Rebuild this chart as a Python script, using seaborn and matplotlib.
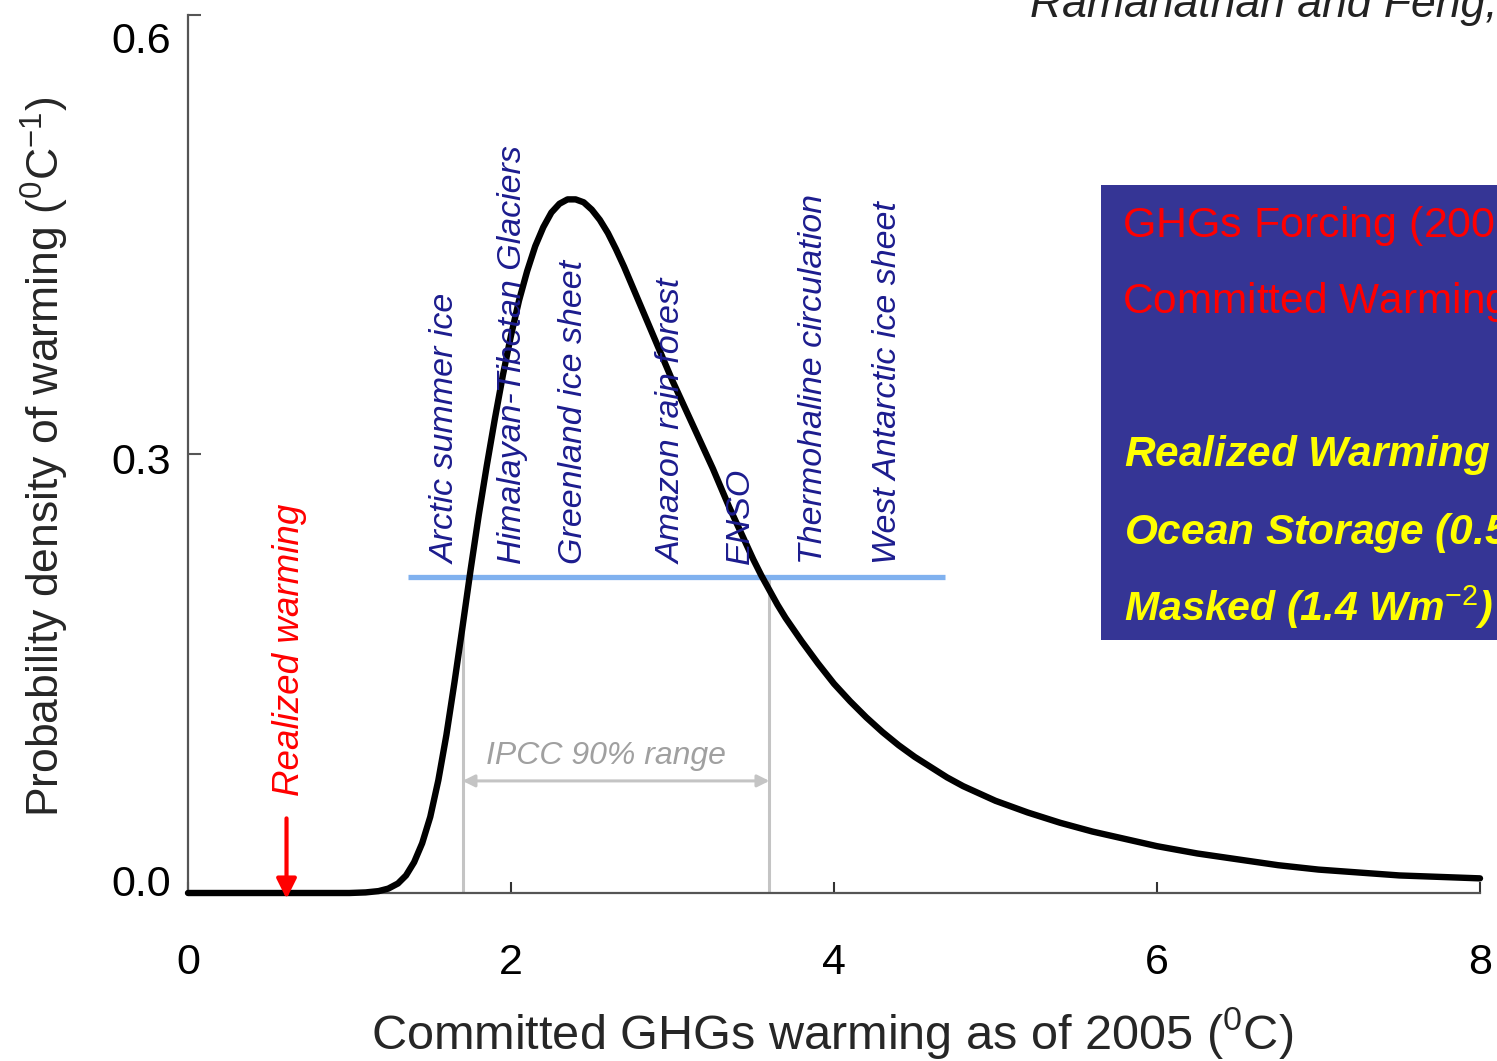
import numpy as np
import pandas as pd
import matplotlib
matplotlib.use("Agg")
import matplotlib.pyplot as plt
import matplotlib.transforms as mtransforms
import seaborn as sns

# ---------------- data ----------------
curve_x = [0.00, 1.00, 1.10, 1.18, 1.24, 1.30, 1.35, 1.40, 1.45, 1.50, 1.55, 1.60, 1.65,
           1.70, 1.75, 1.80, 1.85, 1.90, 1.95, 2.00, 2.05, 2.10, 2.15, 2.20, 2.25, 2.30,
           2.35, 2.40, 2.45, 2.50, 2.55, 2.60, 2.65, 2.70, 2.75, 2.80, 2.85, 2.90, 2.95,
           3.00, 3.05, 3.10, 3.15, 3.20, 3.25, 3.30, 3.35, 3.40, 3.45, 3.50, 3.55, 3.60,
           3.65, 3.70, 3.80, 3.90, 4.00, 4.10, 4.20, 4.30, 4.40, 4.50, 4.60, 4.70, 4.80,
           4.90, 5.00, 5.20, 5.40, 5.60, 5.80, 6.00, 6.25, 6.50, 6.75, 7.00, 7.25, 7.50,
           7.75, 8.00]
curve_density = [0.000, 0.000, 0.0004, 0.0013, 0.003, 0.0065, 0.012, 0.021, 0.034, 0.052,
                 0.077, 0.108, 0.144, 0.182, 0.221, 0.258, 0.292, 0.324, 0.354, 0.381,
                 0.405, 0.425, 0.442, 0.455, 0.465, 0.471, 0.474, 0.474, 0.472, 0.467,
                 0.460, 0.451, 0.440, 0.428, 0.415, 0.402, 0.389, 0.376, 0.363, 0.350,
                 0.338, 0.326, 0.314, 0.302, 0.290, 0.277, 0.264, 0.252, 0.240, 0.228,
                 0.217, 0.207, 0.197, 0.188, 0.172, 0.157, 0.143, 0.131, 0.120, 0.110,
                 0.101, 0.093, 0.086, 0.079, 0.073, 0.068, 0.063, 0.055, 0.048, 0.042,
                 0.037, 0.032, 0.027, 0.023, 0.019, 0.016, 0.014, 0.012, 0.011, 0.010]

tipping_labels = ["Arctic summer ice", "Himalayan-Tibetan Glaciers", "Greenland ice sheet",
                  "Amazon rain forest", "ENSO", "Thermohaline circulation",
                  "West Antarctic ice sheet"]
tipping_x = [1.60, 2.01, 2.39, 3.00, 3.42, 3.875, 4.33]

threshold_level = 0.216
threshold_span = [1.36, 4.69]
ipcc_range = [1.70, 3.60]
ipcc_arrow_level = 0.0766
realized_warming = 0.61

x_ticks = [0, 2, 4, 6, 8]
y_ticks = [0.0, 0.3, 0.6]
y_tick_labels = ["0.0", "0.3", "0.6"]

box_red_lines = ["GHGs Forcing (2005) = 3.0 Wm$^{-2}$", "Committed Warming = 2.4$^{0}$C"]
box_yellow_lines = ["Realized Warming (0.6$^{0}$C)", "Ocean Storage (0.5 Wm$^{-2}$)",
                    "Masked (1.4 Wm$^{-2}$)"]
citation = "Ramanathan and Feng,"

# ---------------- style ----------------
sns.set_theme(style="white")
plt.rcParams["font.family"] = ["Liberation Sans", "DejaVu Sans"]
plt.rcParams["mathtext.fontset"] = "custom"
plt.rcParams["mathtext.rm"] = "Liberation Sans"
plt.rcParams["mathtext.it"] = "Liberation Sans:italic"
plt.rcParams["mathtext.bf"] = "Liberation Sans:bold:italic"

W, H = 1497, 1061
fig = plt.figure(figsize=(W / 100, H / 100), dpi=100)
fig.patch.set_facecolor("white")

ax = fig.add_axes([188 / W, 1 - 893 / H, (1480 - 188) / W, (893 - 15) / H])
ax.set_facecolor("white")

df = pd.DataFrame({"x": curve_x, "density": curve_density})
sns.lineplot(data=df, x="x", y="density", ax=ax, color="black", lw=4.6,
             sort=True, zorder=5, clip_on=False)

ax.set_xlim(0, 8)
ax.set_ylim(0, 0.6)

# spines / ticks
for s in ["top", "right"]:
    ax.spines[s].set_visible(False)
for s in ["left", "bottom"]:
    ax.spines[s].set_color("#555555")
    ax.spines[s].set_linewidth(1.6)
ax.set_xticks(x_ticks)
ax.set_xticklabels([str(t) for t in x_ticks])
ax.set_yticks(y_ticks)
ax.set_yticklabels(y_tick_labels)
ax.tick_params(axis="x", direction="in", length=8, width=1.5, color="#333333",
               labelsize=31, pad=36, labelcolor="black")
ax.tick_params(axis="y", direction="in", length=9, width=1.5, color="#555555",
               labelsize=31, pad=12, labelcolor="black")
ax.tick_params(bottom=True, left=True)

# reference places the y tick labels slightly off their ticks
for lab, dy in zip(ax.get_yticklabels(), [9.0, -3.6, -16.5]):
    lab.set_transform(lab.get_transform() +
                      mtransforms.ScaledTranslation(0, dy / 72, fig.dpi_scale_trans))

ax.set_xlabel("Committed GHGs warming as of 2005 ($^{0}$C)", fontsize=35, va="center")
ax.xaxis.set_label_coords((832 - 188) / 1292, (893 - 1033) / 878)
ax.set_ylabel("Probability density of warming ($^{0}$C$^{-1}$)", fontsize=32, va="center")
ax.yaxis.set_label_coords((45 - 188) / 1292, (893 - 457) / 878)

# IPCC range
left_top = float(np.interp(ipcc_range[0], curve_x, curve_density))
ax.vlines(ipcc_range[0], 0, left_top, color="#c4c4c4", lw=2.2, zorder=2)
ax.vlines(ipcc_range[1], 0, threshold_level, color="#c4c4c4", lw=2.2, zorder=2)
ax.annotate("", xy=(ipcc_range[0], ipcc_arrow_level), xytext=(ipcc_range[1], ipcc_arrow_level),
            arrowprops=dict(arrowstyle="<|-|>", color="#c4c4c4", lw=2.2,
                            mutation_scale=18, shrinkA=0, shrinkB=0), zorder=2)
ax.text(sum(ipcc_range) / 2 - 0.06, 0.088, "IPCC 90% range", color="#a0a0a0",
        fontsize=23, style="italic", ha="center", va="baseline")

# threshold line
ax.hlines(threshold_level, threshold_span[0], threshold_span[1], color="#80b1ef",
          lw=3.8, zorder=4)

# tipping labels
for lab, xv in zip(tipping_labels, tipping_x):
    ax.text(xv, 0.225, lab, rotation=90, ha="center", va="bottom", color="#1c1c8e",
            fontsize=24.5, style="italic", zorder=6)

# realized warming
ax.annotate("", xy=(realized_warming, -0.004), xytext=(realized_warming, 0.051),
            arrowprops=dict(arrowstyle="-|>", color="#ff0000", lw=3,
                            mutation_scale=30, shrinkA=0, shrinkB=0),
            annotation_clip=False, zorder=7)
ax.text(realized_warming + 0.02, 0.066, "Realized warming", rotation=90, ha="center",
        va="bottom", color="#ff0000", fontsize=26.5, style="italic")

# citation (clipped at top in the reference)
fig.text(1030 / W, 1 - 17 / H, citation, fontsize=32, style="italic", color="#222222",
         ha="left", va="baseline")

# info box
bx = fig.add_axes([1101 / W, 1 - 640 / H, (W - 1101) / W, (640 - 185) / H])
bx.set_xlim(0, W - 1101)
bx.set_ylim(640, 185)
bx.set_facecolor("#353595")
for s in bx.spines.values():
    s.set_visible(False)
bx.set_xticks([])
bx.set_yticks([])
for line, yb, fs in zip(box_red_lines, [238, 314], [31, 30.5]):
    bx.text(21, yb, line, color="#ff0000", fontsize=fs, ha="left", va="baseline",
            clip_on=True)
for line, yb, fs in zip(box_yellow_lines, [467, 545, 621], [30.5, 30.5, 29.6]):
    bx.text(23, yb, line, color="#ffff00", fontsize=fs, fontweight="bold",
            style="italic", ha="left", va="baseline", clip_on=True)

fig.savefig("out.png", dpi=100)
